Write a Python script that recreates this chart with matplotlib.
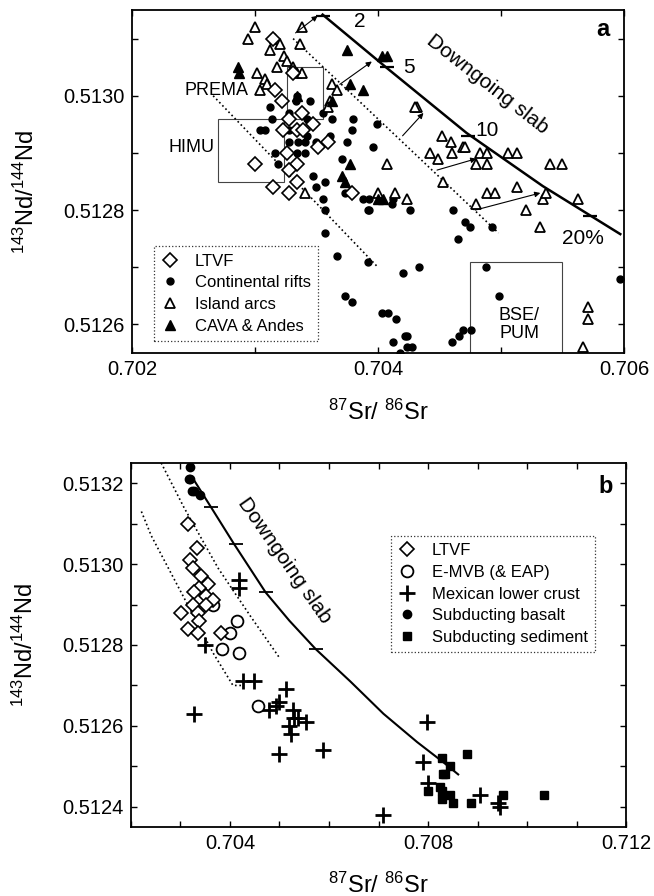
import matplotlib
matplotlib.use('Agg')
import matplotlib.pyplot as plt
from matplotlib.ticker import MultipleLocator, FormatStrFormatter
from matplotlib.patches import Rectangle
from matplotlib.lines import Line2D

plt.rcParams['font.family'] = ['Liberation Sans', 'DejaVu Sans']
plt.rcParams['mathtext.fontset'] = 'custom'
plt.rcParams['mathtext.rm'] = 'Liberation Sans'
plt.rcParams['mathtext.default'] = 'regular'

# ---------------- panel a data ----------------
ltvf_a_sr = [0.70315, 0.70331, 0.70316, 0.70322, 0.70328, 0.70338, 0.70347, 0.70323, 0.70334, 0.70339,
             0.70359, 0.70351, 0.70326, 0.70334, 0.70300, 0.70328, 0.70334, 0.70315, 0.70328, 0.70379]
ltvf_a_nd = [0.51310, 0.51304, 0.51301, 0.51299, 0.51296, 0.51297, 0.51295, 0.51294, 0.51294, 0.51294,
             0.51292, 0.51291, 0.51290, 0.51288, 0.51288, 0.51287, 0.51285, 0.51284, 0.51283, 0.51283]

rift_sr = [0.70334, 0.70345, 0.70333, 0.70312, 0.70328, 0.70355, 0.70304, 0.70308, 0.70314, 0.70342,
           0.70363, 0.70380, 0.70379, 0.70399, 0.70328, 0.70342, 0.70361, 0.70375, 0.70328, 0.70335,
           0.70341, 0.70350, 0.70396, 0.70316, 0.70334, 0.70341, 0.70371, 0.70319, 0.70347, 0.70357,
           0.70355, 0.70350, 0.70373, 0.70388, 0.70393, 0.70392, 0.70357, 0.70357, 0.70367, 0.70392,
           0.70373, 0.70379, 0.70403, 0.70408, 0.70415, 0.70412, 0.70422, 0.70424, 0.70424, 0.70428,
           0.70418, 0.70420, 0.70433, 0.70393, 0.70411, 0.70426, 0.70402, 0.70412, 0.70461, 0.70471,
           0.70475, 0.70465, 0.70493, 0.70488, 0.70498, 0.70469, 0.70476, 0.70460, 0.70466, 0.70597]
rift_nd = [0.51300, 0.51299, 0.51299, 0.51298, 0.51297, 0.51297, 0.51294, 0.51294, 0.51296, 0.51296,
           0.51296, 0.51296, 0.51294, 0.51295, 0.51294, 0.51293, 0.51293, 0.51292, 0.51292, 0.51292,
           0.51292, 0.51292, 0.51291, 0.51290, 0.51290, 0.51290, 0.51289, 0.51288, 0.51286, 0.51285,
           0.51282, 0.51284, 0.51283, 0.51282, 0.51282, 0.51280, 0.51280, 0.51276, 0.51272, 0.51271,
           0.51265, 0.51264, 0.51262, 0.51262, 0.51261, 0.51257, 0.51258, 0.51258, 0.51256, 0.51256,
           0.51255, 0.51269, 0.51270, 0.51280, 0.51281, 0.51280, 0.51282, 0.51282, 0.51280, 0.51278,
           0.51277, 0.51275, 0.51277, 0.51270, 0.51265, 0.51259, 0.51259, 0.51257, 0.51258, 0.51268]

arc_sr = [0.70300, 0.70294, 0.70338, 0.70316, 0.70320, 0.70337, 0.70312, 0.70324, 0.70326, 0.70318,
          0.70331, 0.70334, 0.70338, 0.70302, 0.70308, 0.70304, 0.70310, 0.70363, 0.70367, 0.70361,
          0.70359, 0.70407, 0.70341, 0.70400, 0.70414, 0.70432, 0.70430, 0.70452, 0.70459, 0.70460,
          0.70442, 0.70449, 0.70469, 0.70471, 0.70483, 0.70489, 0.70506, 0.70513, 0.70480, 0.70489,
          0.70540, 0.70550, 0.70453, 0.70424, 0.70480, 0.70489, 0.70495, 0.70513, 0.70520, 0.70534,
          0.70537, 0.70563, 0.70532, 0.70571, 0.70571, 0.70567]
arc_nd = [0.51312, 0.51310, 0.51312, 0.51310, 0.51309, 0.51309, 0.51308, 0.51307, 0.51306, 0.51305,
          0.51305, 0.51304, 0.51304, 0.51304, 0.51303, 0.51301, 0.51302, 0.51302, 0.51301, 0.51299,
          0.51298, 0.51288, 0.51283, 0.51283, 0.51283, 0.51298, 0.51298, 0.51293, 0.51292, 0.51290,
          0.51290, 0.51289, 0.51291, 0.51291, 0.51290, 0.51290, 0.51290, 0.51290, 0.51288, 0.51288,
          0.51288, 0.51288, 0.51285, 0.51282, 0.51281, 0.51283, 0.51283, 0.51284, 0.51280, 0.51282,
          0.51283, 0.51282, 0.51277, 0.51263, 0.51261, 0.51256]

cava_sr = [0.70286, 0.70287, 0.70375, 0.70403, 0.70407, 0.70377, 0.70388, 0.70334, 0.70363, 0.70377,
           0.70371, 0.70373, 0.70400, 0.70404]
cava_nd = [0.51305, 0.51304, 0.51308, 0.51307, 0.51307, 0.51302, 0.51301, 0.51300, 0.51299, 0.51288,
           0.51286, 0.51285, 0.51282, 0.51282]

slab_a_sr = [0.70355, 0.70407, 0.70472, 0.70534, 0.70597]
slab_a_nd = [0.513142, 0.513049, 0.512935, 0.512842, 0.512758]
slab_a_tick_sr = [0.70355, 0.70407, 0.70473, 0.70572]
slab_a_tick_nd = [0.51314, 0.51305, 0.51293, 0.51279]
slab_a_tick_lab = ['2', '5', '10', '20%']
slab_a_lab_sr = [0.70385, 0.70425, 0.70489, 0.70567]
slab_a_lab_nd = [0.51313, 0.51305, 0.51294, 0.51275]

dot_a1_sr = [0.70266, 0.70400]
dot_a1_nd = [0.51300, 0.51270]
dot_a2_sr = [0.70331, 0.70498]
dot_a2_nd = [0.51310, 0.51276]

arrow_from = [(0.70333, 0.51311), (0.70369, 0.51302), (0.70420, 0.51293), (0.70448, 0.51287), (0.70479, 0.51280)]
arrow_to = [(0.70351, 0.51314), (0.70395, 0.51306), (0.70437, 0.51297), (0.70480, 0.51289), (0.70532, 0.51283)]

# reservoir fields: (sr_min, sr_max, nd_min, nd_max)
himu_box = (0.70270, 0.70324, 0.51285, 0.51296)
prema_box = (0.70326, 0.70355, 0.51296, 0.51305)
bse_box = (0.70475, 0.70550, 0.51255, 0.51271)

# ---------------- panel b data ----------------
basalt_sr = [0.70320, 0.70318, 0.70320, 0.70324, 0.70328, 0.70340]
basalt_nd = [0.51324, 0.51321, 0.51321, 0.51318, 0.51318, 0.51317]

ltvf_b_sr = [0.70315, 0.70334, 0.70320, 0.70326, 0.70342, 0.70356, 0.70338, 0.70328, 0.70352, 0.70366,
             0.70326, 0.70352, 0.70336, 0.70301, 0.70338, 0.70315, 0.70336, 0.70382]
ltvf_b_nd = [0.51310, 0.51304, 0.51301, 0.51299, 0.51297, 0.51295, 0.51294, 0.51293, 0.51292, 0.51291,
             0.51290, 0.51290, 0.51288, 0.51288, 0.51286, 0.51284, 0.51283, 0.51283]

emvb_sr = [0.70414, 0.70400, 0.70384, 0.70418, 0.70456, 0.70366]
emvb_nd = [0.51286, 0.51283, 0.51279, 0.51278, 0.51265, 0.51290]

crust_sr = [0.70418, 0.70418, 0.70350, 0.70426, 0.70448, 0.70328, 0.70513, 0.70499, 0.70493, 0.70478,
            0.70527, 0.70529, 0.70537, 0.70553, 0.70519, 0.70523, 0.70499, 0.70587, 0.70798, 0.70790,
            0.70800, 0.70710, 0.70905, 0.70941, 0.70945]
crust_nd = [0.51296, 0.51294, 0.51280, 0.51271, 0.51271, 0.51263, 0.51269, 0.51266, 0.51265, 0.51264,
            0.51264, 0.51262, 0.51262, 0.51261, 0.51260, 0.51258, 0.51253, 0.51254, 0.51261, 0.51251,
            0.51246, 0.51238, 0.51243, 0.51241, 0.51240]

sed_sr = [0.70829, 0.70879, 0.70845, 0.70831, 0.70835, 0.70825, 0.70829, 0.70800, 0.70845, 0.70829,
          0.70851, 0.70887, 0.70951, 0.71034]
sed_nd = [0.51252, 0.51253, 0.51250, 0.51248, 0.51248, 0.51245, 0.51244, 0.51244, 0.51243, 0.51242,
          0.51241, 0.51241, 0.51243, 0.51243]

slab_b_sr = [0.70326, 0.70362, 0.70408, 0.70440, 0.70472, 0.70520, 0.70573, 0.70643, 0.70710, 0.70778,
             0.70831, 0.70861]
slab_b_nd = [0.51321, 0.51314, 0.51305, 0.51299, 0.51293, 0.51286, 0.51279, 0.51271, 0.51263, 0.51256,
             0.51251, 0.51248]
slab_b_tick_sr = [0.70362, 0.70412, 0.70472, 0.70573]
slab_b_tick_nd = [0.51314, 0.51305, 0.51293, 0.51279]

dot_b1_sr = [0.70261, 0.70307, 0.70376, 0.70442, 0.70499]
dot_b1_nd = [0.51325, 0.51314, 0.51299, 0.51287, 0.51277]
dot_b2_sr = [0.70221, 0.70241, 0.70366, 0.70406, 0.70428]
dot_b2_nd = [0.51313, 0.51307, 0.51278, 0.51270, 0.51270]

TICK_FS = 14.5
LAB_FS = 17
LEG_FS = 12


def style_axes(ax, xmaj, xmin, ymaj, ymin, xfmt, yfmt):
    ax.xaxis.set_major_locator(MultipleLocator(xmaj))
    ax.xaxis.set_minor_locator(MultipleLocator(xmin))
    ax.yaxis.set_major_locator(MultipleLocator(ymaj))
    ax.yaxis.set_minor_locator(MultipleLocator(ymin))
    ax.xaxis.set_major_formatter(FormatStrFormatter(xfmt))
    ax.yaxis.set_major_formatter(FormatStrFormatter(yfmt))
    ax.tick_params(which='both', direction='in', top=True, right=True, width=1.0,
                   labelsize=TICK_FS, pad=5)
    ax.tick_params(which='major', length=4)
    ax.tick_params(which='minor', length=4)
    for s in ax.spines.values():
        s.set_linewidth(1.3)
    ax.set_xlabel(r'$^{87}$Sr/ $^{86}$Sr', fontsize=LAB_FS)
    ax.set_ylabel(r'$^{143}$Nd/$^{144}$Nd', fontsize=LAB_FS)


def dotted_legend(ax, handles, labels, anchor):
    leg = ax.legend(handles, labels, loc='upper left', bbox_to_anchor=anchor,
                    frameon=True, fancybox=False, edgecolor='k', fontsize=LEG_FS,
                    handlelength=1.0, handletextpad=1.0, labelspacing=0.4,
                    borderpad=0.45, borderaxespad=0)
    fr = leg.get_frame()
    fr.set_linestyle(':')
    fr.set_linewidth(0.9)
    return leg


fig = plt.figure(figsize=(6.54, 8.96), dpi=100)

# ================= panel a =================
ax = fig.add_axes([0.2018, 0.6060, 0.7523, 0.3828])
ax.set_xlim(0.702, 0.706)
ax.set_ylim(0.51255, 0.51315)

for b in (himu_box, prema_box, bse_box):
    ax.add_patch(Rectangle((b[0], b[2]), b[1] - b[0], b[3] - b[2], fill=False,
                           ec='#444444', lw=0.8, zorder=1))

ax.plot(dot_a1_sr, dot_a1_nd, ls=':', color='k', lw=1.2, zorder=2)
ax.plot(dot_a2_sr, dot_a2_nd, ls=':', color='k', lw=1.2, zorder=2)

ax.plot(rift_sr, rift_nd, 'o', ms=5, color='k', zorder=3)
ax.plot(arc_sr, arc_nd, '^', ms=7, mfc='white', mec='k', mew=1.3, zorder=3)
ax.plot(cava_sr, cava_nd, '^', ms=7, color='k', zorder=3)
ax.plot(ltvf_a_sr, ltvf_a_nd, 'D', ms=7, mfc='white', mec='k', mew=1.2, zorder=4)

ax.plot(slab_a_sr, slab_a_nd, '-', color='k', lw=1.8, zorder=5)
ax.plot(slab_a_tick_sr, slab_a_tick_nd, '_', color='k', ms=10, mew=1.6, zorder=5)
for lab, sx, sy in zip(slab_a_tick_lab, slab_a_lab_sr, slab_a_lab_nd):
    ax.text(sx, sy, lab, fontsize=15, ha='center', va='center')

for p0, p1 in zip(arrow_from, arrow_to):
    ax.annotate('', xy=p1, xytext=p0,
                arrowprops=dict(arrowstyle='-|>', lw=0.8, color='k', mutation_scale=8,
                                shrinkA=0, shrinkB=0))

ax.text(0.70489, 0.51302, 'Downgoing slab', fontsize=15, rotation=-38,
        ha='center', va='center')
ax.text(0.70267, 0.51291, 'HIMU', fontsize=13, ha='right', va='center')
ax.text(0.70269, 0.51301, 'PREMA', fontsize=13, ha='center', va='center')
ax.text(0.70515, 0.51260, 'BSE/\nPUM', fontsize=13, ha='center', va='center',
        linespacing=1.05)
ax.text(0.957, 0.942, 'a', transform=ax.transAxes, fontsize=17, fontweight='bold',
        ha='center', va='center')

style_axes(ax, 0.002, 0.001, 0.0002, 0.0001, '%.3f', '%.4f')
ax.yaxis.set_label_coords(-0.19, 0.47)
ax.xaxis.set_label_coords(0.5, -0.135)

h_a = [Line2D([], [], marker='D', ls='none', mfc='white', mec='k', ms=7, mew=1.2),
       Line2D([], [], marker='o', ls='none', color='k', ms=5),
       Line2D([], [], marker='^', ls='none', mfc='white', mec='k', ms=7, mew=1.3),
       Line2D([], [], marker='^', ls='none', color='k', ms=7)]
dotted_legend(ax, h_a, ['LTVF', 'Continental rifts', 'Island arcs', 'CAVA & Andes'],
              (0.045, 0.312))

# ================= panel b =================
bx = fig.add_axes([0.2003, 0.0770, 0.7569, 0.4063])
bx.set_xlim(0.702, 0.712)
bx.set_ylim(0.51235, 0.51325)

bx.plot(dot_b1_sr, dot_b1_nd, ls=':', color='k', lw=1.2, zorder=2)
bx.plot(dot_b2_sr, dot_b2_nd, ls=':', color='k', lw=1.2, zorder=2)

bx.plot(slab_b_sr, slab_b_nd, '-', color='k', lw=1.5, zorder=3)
bx.plot(slab_b_tick_sr, slab_b_tick_nd, '_', color='k', ms=10, mew=1.3, zorder=3)

bx.plot(basalt_sr, basalt_nd, 'o', ms=6, color='k', zorder=4)
bx.plot(sed_sr, sed_nd, 's', ms=5.5, color='k', zorder=4)
bx.plot(crust_sr, crust_nd, '+', ms=11, color='k', mew=2, zorder=4)
bx.plot(emvb_sr, emvb_nd, 'o', ms=8.5, mfc='white', mec='k', mew=1.3, zorder=4)
bx.plot(ltvf_b_sr, ltvf_b_nd, 'D', ms=7, mfc='white', mec='k', mew=1.2, zorder=5)

bx.text(0.70509, 0.51301, 'Downgoing slab', fontsize=15, rotation=-55,
        ha='center', va='center')
bx.text(0.958, 0.934, 'b', transform=bx.transAxes, fontsize=17, fontweight='bold',
        ha='center', va='center')

style_axes(bx, 0.004, 0.001, 0.0002, 0.0001, '%.3f', '%.4f')
bx.yaxis.set_label_coords(-0.188, 0.5)
bx.xaxis.set_label_coords(0.5, -0.125)

h_b = [Line2D([], [], marker='D', ls='none', mfc='white', mec='k', ms=7, mew=1.2),
       Line2D([], [], marker='o', ls='none', mfc='white', mec='k', ms=8.5, mew=1.3),
       Line2D([], [], marker='+', ls='none', color='k', ms=11, mew=2),
       Line2D([], [], marker='o', ls='none', color='k', ms=6),
       Line2D([], [], marker='s', ls='none', color='k', ms=5.5)]
dotted_legend(bx, h_b, ['LTVF', 'E-MVB (& EAP)', 'Mexican lower crust',
                        'Subducting basalt', 'Subducting sediment'], (0.525, 0.80))

fig.savefig('out.png', dpi=100)
